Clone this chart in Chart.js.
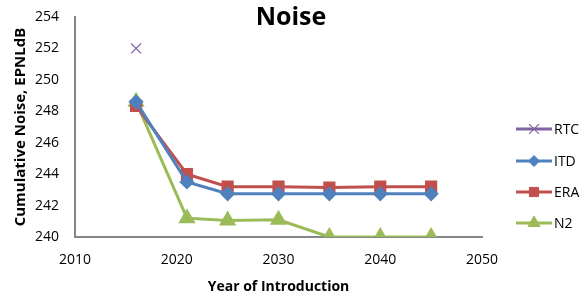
<!DOCTYPE html>
<html>
<head>
<meta charset="utf-8">
<script src="https://cdn.jsdelivr.net/npm/chart.js@4"></script>
<style>
  html, body { margin: 0; padding: 0; background: #fff; }
  #wrap { width: 584px; height: 297px; }
</style>
</head>
<body>
<div id="wrap"><canvas id="noiseChart"></canvas></div>
<script>
// Data
const years = [2016, 2021, 2025, 2030, 2035, 2040, 2045];
const rtc = [252];
const itd = [248.6, 243.5, 242.75, 242.75, 242.75, 242.75, 242.75];
const era = [248.35, 244.0, 243.2, 243.2, 243.15, 243.2, 243.2];
const n2 = [248.6, 241.2, 241.05, 241.1, 240.0, 240.0, 240.0];
const xTicks = [2010, 2020, 2030, 2040, 2050];
const yTicks = [240, 242, 244, 246, 248, 250, 252, 254];

const font = "'Open Sans', 'Liberation Sans', sans-serif";
const toPoints = (vals) => vals.map((v, i) => ({ x: years[i], y: v }));

// Title + Excel-style legend (line with marker)
const extras = {
  id: 'extras',
  afterDraw(chart) {
    const c = chart.ctx;
    c.save();
    c.fillStyle = '#000';
    c.font = 'bold 25px ' + font;
    c.textAlign = 'center';
    c.textBaseline = 'middle';
    c.fillText('Noise', 291, 18);

    const legendY = [129, 161, 192, 223];
    chart.data.datasets.forEach((ds, i) => {
      const y = legendY[i];
      c.strokeStyle = ds.borderColor;
      c.lineWidth = 3;
      c.beginPath();
      c.moveTo(516, y);
      c.lineTo(552, y);
      c.stroke();
      c.fillStyle = ds.backgroundColor;
      c.strokeStyle = ds.borderColor;
      c.lineWidth = ds.pointBorderWidth || 1;
      Chart.helpers.drawPoint(c, {
        pointStyle: ds.pointStyle,
        rotation: ds.pointRotation || 0,
        radius: ds.pointRadius,
        borderWidth: ds.pointBorderWidth || 1
      }, 534, y);
      c.fillStyle = '#000';
      c.font = '14px ' + font;
      c.textAlign = 'left';
      c.fillText(ds.label, 554, y + 1);
    });
    c.restore();
  }
};

const config = {
  type: 'line',
  data: {
    datasets: [
      {
        label: 'RTC', data: toPoints(rtc),
        borderColor: '#8064A2', backgroundColor: '#8064A2',
        pointStyle: 'cross', pointRotation: 45, pointRadius: 7, pointBorderWidth: 1.2,
        borderWidth: 3, showLine: false
      },
      {
        label: 'ITD', data: toPoints(itd),
        borderColor: '#4F81BD', backgroundColor: '#4F81BD',
        pointStyle: 'rectRot', pointRadius: 5.5, borderWidth: 3
      },
      {
        label: 'ERA', data: toPoints(era),
        borderColor: '#C0504D', backgroundColor: '#C0504D',
        pointStyle: 'rect', pointRadius: 6.5, borderWidth: 3
      },
      {
        label: 'N2', data: toPoints(n2),
        borderColor: '#9BBB59', backgroundColor: '#9BBB59',
        pointStyle: 'triangle', pointRadius: 7, borderWidth: 3
      }
    ]
  },
  options: {
    responsive: true,
    maintainAspectRatio: false,
    animation: false,
    layout: { padding: { top: 17, right: 102, left: 8, bottom: 0 } },
    plugins: {
      legend: { display: false },
      title: { display: false },
      tooltip: { enabled: false }
    },
    elements: { line: { tension: 0 } },
    scales: {
      x: {
        type: 'linear', min: 2010, max: 2050,
        afterBuildTicks: (s) => { s.ticks = xTicks.map(v => ({ value: v })); },
        grid: { display: false, drawTicks: false },
        border: { color: '#868686', width: 2 },
        ticks: { color: '#000', font: { family: font, size: 14 }, padding: 15, callback: v => String(v) },
        title: { display: true, text: 'Year of Introduction', color: '#000', font: { family: font, size: 14, weight: 'bold' }, padding: { top: 4, bottom: 2 } },
        afterFit: (s) => { s.height = 60; s.paddingLeft = 0; s.paddingRight = 0; }
      },
      y: {
        min: 240, max: 254,
        afterBuildTicks: (s) => { s.ticks = yTicks.map(v => ({ value: v })); },
        grid: { display: false, drawTicks: false },
        border: { color: '#868686', width: 2 },
        ticks: { color: '#000', font: { family: font, size: 14 }, padding: 16 },
        title: { display: true, text: 'Cumulative Noise, EPNLdB', color: '#000', font: { family: font, size: 15, weight: 'bold' }, padding: { bottom: 4 } },
        afterFit: (s) => { s.width = 67; s.paddingTop = 0; s.paddingBottom = 0; }
      }
    }
  },
  plugins: [extras]
};

const noiseChart = new Chart(document.getElementById('noiseChart').getContext('2d'), config);
</script>
</body>
</html>
